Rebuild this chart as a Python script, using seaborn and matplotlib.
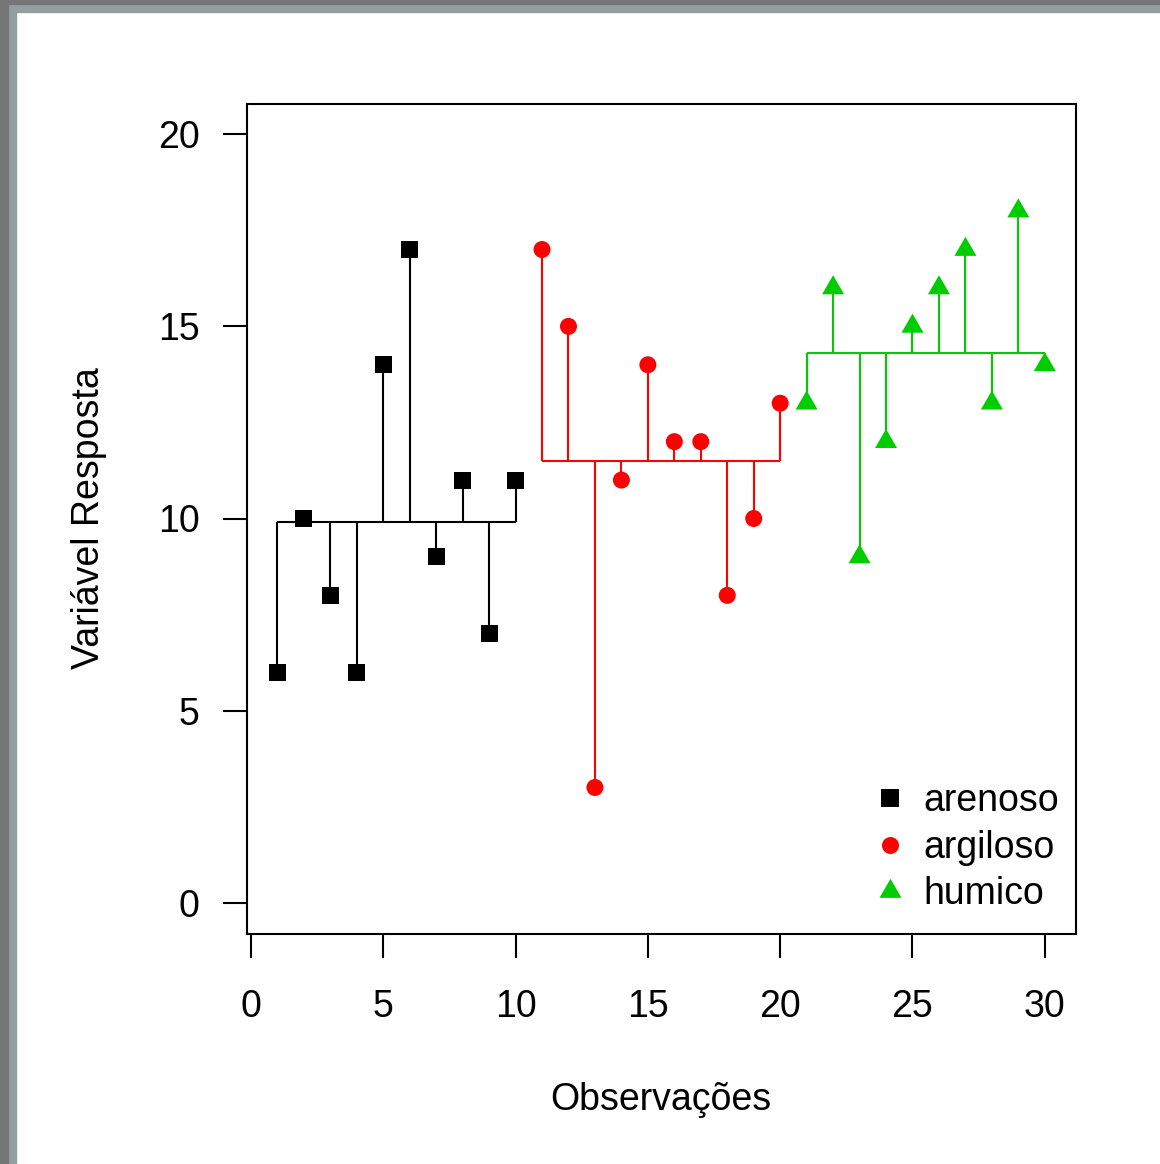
import numpy as np
import pandas as pd
import matplotlib
matplotlib.use('Agg')
import matplotlib.pyplot as plt
from matplotlib.patches import Rectangle
from matplotlib.path import Path
import seaborn as sns

# dados
arenoso = [6, 10, 8, 6, 14, 17, 9, 11, 7, 11]
argiloso = [17, 15, 3, 11, 14, 12, 12, 8, 10, 13]
humico = [13, 16, 9, 12, 15, 16, 17, 13, 18, 14]
solos = ['arenoso', 'argiloso', 'humico']
cores = {'arenoso': '#000000', 'argiloso': '#ff0000', 'humico': '#00cd00'}

resp = arenoso + argiloso + humico
df = pd.DataFrame({'obs': np.arange(1, len(resp) + 1),
                   'resp': resp,
                   'solo': np.repeat(solos, len(arenoso))})

sns.set_style('white')
plt.rcParams['font.family'] = ['Liberation Sans', 'DejaVu Sans']
plt.rcParams['text.color'] = 'black'
plt.rcParams['axes.labelcolor'] = 'black'

fig = plt.figure(figsize=(11.6, 11.64), dpi=100)
ax = fig.add_axes([246.7 / 1160, 1 - 933.5 / 1164, 828.8 / 1160, 830 / 1164])

# linhas ate a media de cada grupo
for solo in solos:
    d = df[df['solo'] == solo]
    m = d['resp'].mean()
    ax.hlines(m, d['obs'].min(), d['obs'].max(), color=cores[solo], lw=1.5, zorder=2)
    ax.vlines(d['obs'], m, d['resp'], color=cores[solo], lw=1.5, zorder=2)

# triangulo centrado no centroide (como pch 17 do R)
tri = Path([(0, 1.155), (-1, -0.577), (1, -0.577), (0, 1.155)],
           [Path.MOVETO, Path.LINETO, Path.LINETO, Path.CLOSEPOLY])

sns.scatterplot(data=df, x='obs', y='resp', hue='solo', style='solo', size='solo',
                palette=cores,
                markers={'arenoso': 's', 'argiloso': 'o', 'humico': tri},
                sizes={'arenoso': 150, 'argiloso': 150, 'humico': 335},
                linewidth=0, edgecolor='none', zorder=3, ax=ax, legend='full')

ax.set_xlim(-0.16, 31.16)
ax.set_ylim(-0.8, 20.8)
ax.set_xticks([0, 5, 10, 15, 20, 25, 30])
ax.set_yticks([0, 5, 10, 15, 20])

for s in ax.spines.values():
    s.set_visible(True)
    s.set_color('black')
    s.set_linewidth(1.5)

ax.tick_params(axis='both', direction='out', length=17, width=1.5,
               labelsize=27, colors='black', bottom=True, left=True)
ax.tick_params(axis='x', pad=23)
ax.tick_params(axis='y', pad=17)

ax.set_xlabel('Observações', fontsize=27, va='center', color='black')
ax.set_ylabel('Variável Resposta', fontsize=27, va='center', color='black')
ax.xaxis.set_label_coords(0.5, -0.2)
ax.yaxis.set_label_coords(-0.190, 0.5)

sns.move_legend(ax, 'lower right', bbox_to_anchor=(1.003, 0.003),
                frameon=False, title=None, fontsize=27, borderpad=0,
                handlelength=1, handletextpad=0.4, labelspacing=0.28)
for t in ax.get_legend().get_texts():
    t.set_color('black')

# moldura cinza da janela
fig.patches.append(Rectangle((8 / 1160, 0), 8 / 1160, 1, transform=fig.transFigure,
                             color='#939f9f', zorder=0))
fig.patches.append(Rectangle((0, 1 - 12 / 1164), 1, 8 / 1164, transform=fig.transFigure,
                             color='#939f9f', zorder=0))
fig.patches.append(Rectangle((0, 0), 8 / 1160, 1, transform=fig.transFigure,
                             color='#767676', zorder=0))
fig.patches.append(Rectangle((0, 1 - 4 / 1164), 1, 4 / 1164, transform=fig.transFigure,
                             color='#767676', zorder=0))

fig.savefig('out.png', dpi=100, facecolor='white')
